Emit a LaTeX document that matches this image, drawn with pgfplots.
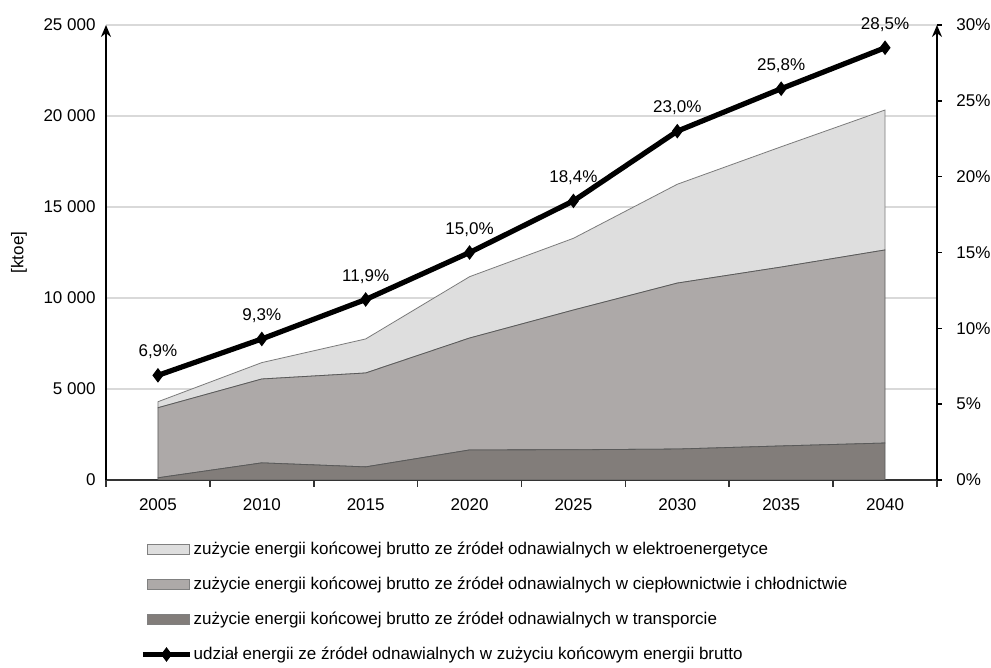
\documentclass[border=0pt]{standalone}
\usepackage{pgfplots}
\pgfplotsset{compat=1.18}
\usepackage{fontspec}
\setmainfont{Liberation Sans}
\usetikzlibrary{arrows.meta}
\definecolor{cLight}{HTML}{DEDEDE}
\definecolor{cMid}{HTML}{ADA9A8}
\definecolor{cDark}{HTML}{827D7A}
\definecolor{cEdge}{HTML}{5A5A5A}
\definecolor{cGrid}{HTML}{D9D9D9}
\newcommand{\fs}{\fontsize{8.5}{10}\selectfont}
\pgfplotsset{mylineleg/.style={legend image code/.code={\draw[mark repeat=2,mark phase=2,##1] plot coordinates {(0pt,0pt) (11.75pt,0pt) (23.5pt,0pt)};}}}
\begin{document}
\begin{tikzpicture}
\begin{axis}[
  scale only axis, width=415.5pt, height=227.5pt,
  xmin=2002.5, xmax=2042.5, ymin=0, ymax=25000,
  axis x line*=bottom, axis y line*=left,
  x axis line style={-, draw=black!80, line width=0.8pt},
  y axis line style={-{Stealth[length=6pt,width=5pt]}, line width=1pt},
  xtick={2005,2010,2015,2020,2025,2030,2035,2040},
  xticklabels={2005,2010,2015,2020,2025,2030,2035,2040},
  minor xtick={2002.5,2007.5,2012.5,2017.5,2022.5,2027.5,2032.5,2037.5,2042.5},
  tick align=outside,
  major tick length=0pt, minor tick length=3.5pt,
  minor tick style={black!80, line width=0.8pt},
  ytick={0,5000,10000,15000,20000,25000},
  yticklabels={0,5 000,10 000,15 000,20 000,25 000},
  scaled y ticks=false,
  ymajorgrids, grid style={cGrid, line width=0.7pt},
  tick label style={font=\fs},
  xticklabel style={yshift=-6pt},
  yticklabel style={xshift=-1.7pt},
  ylabel={[ktoe]},
  ylabel style={font=\fs, at={(axis description cs:-0.1047,0.5)}, anchor=center},
  stack plots=y,
]
\addplot[fill=cDark, draw=cEdge, line width=0.4pt] coordinates {
 (2005,120) (2010,940) (2015,720) (2020,1650) (2025,1660) (2030,1700) (2035,1870) (2040,2030)} \closedcycle;
\addplot[fill=cMid, draw=cEdge, line width=0.4pt] coordinates {
 (2005,3850) (2010,4610) (2015,5160) (2020,6150) (2025,7680) (2030,9120) (2035,9830) (2040,10610)} \closedcycle;
\addplot[fill=cLight, draw=cEdge!80, line width=0.4pt] coordinates {
 (2005,330) (2010,900) (2015,1870) (2020,3370) (2025,3940) (2030,5430) (2035,6610) (2040,7690)} \closedcycle;
\end{axis}
\begin{axis}[
  scale only axis, width=415.5pt, height=227.5pt,
  xmin=2002.5, xmax=2042.5, ymin=0, ymax=30,
  axis x line=none, axis y line*=right,
  xtick=\empty,
  y axis line style={-{Stealth[length=6pt,width=5pt]}, line width=1pt},
  ytick={0,5,10,15,20,25,30},
  yticklabels={0\%,5\%,10\%,15\%,20\%,25\%,30\%},
  tick align=outside, major tick length=2.5pt,
  ytick style={black, line width=0.8pt},
  yticklabel style={font=\fs, xshift=3.7pt},
  legend style={at={(rel axis cs:0,0)}, anchor=north west, xshift=17pt, yshift=-30.3pt,
    draw=none, fill=none, inner sep=0pt, row sep=8.7pt, column sep=0pt, font=\fs,
    nodes={inner sep=0.5pt}},
  legend cell align=left,
]
\addlegendimage{legend image code/.code={\draw[fill=cLight, draw=gray, line width=0.4pt] (2pt,-2.5pt) rectangle (23pt,2.5pt);}}
\addlegendentry{zużycie energii końcowej brutto ze źródeł odnawialnych w elektroenergetyce}
\addlegendimage{legend image code/.code={\draw[fill=cMid, draw=gray, line width=0.4pt] (2pt,-2.5pt) rectangle (23pt,2.5pt);}}
\addlegendentry{zużycie energii końcowej brutto ze źródeł odnawialnych w ciepłownictwie i chłodnictwie}
\addlegendimage{legend image code/.code={\draw[fill=cDark, draw=gray, line width=0.4pt] (2pt,-2.5pt) rectangle (23pt,2.5pt);}}
\addlegendentry{zużycie energii końcowej brutto ze źródeł odnawialnych w transporcie}
\addplot[black, line width=2.6pt, mark=diamond*, mark size=3.2pt, mark options={line width=0.6pt},
  nodes near coords, point meta=explicit symbolic,
  every node near coord/.append style={font=\fs, anchor=south, yshift=4.5pt, black},
  mylineleg]
 coordinates {(2005,6.9) [{6,9\%}] (2010,9.3) [{9,3\%}] (2015,11.9) [{11,9\%}] (2020,15.0) [{15,0\%}]
  (2025,18.4) [{18,4\%}] (2030,23.0) [{23,0\%}] (2035,25.8) [{25,8\%}] (2040,28.5) [{28,5\%}]};
\addlegendentry{udział energii ze źródeł odnawialnych w zużyciu końcowym energii brutto}
\end{axis}
\pgfresetboundingbox
\path[use as bounding box] (-53pt,-94pt) rectangle (442.5pt,240pt);
\end{tikzpicture}
\end{document}
